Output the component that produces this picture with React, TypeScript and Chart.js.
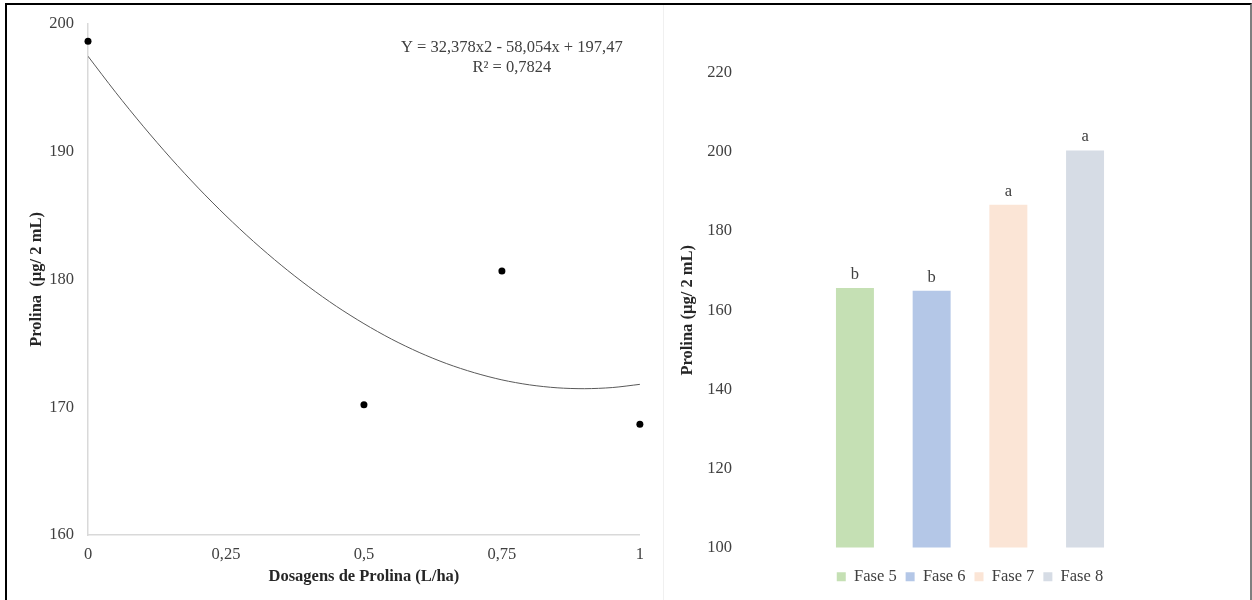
import React, { useEffect, useRef } from "react";
import { Chart, registerables } from "chart.js";

Chart.register(...registerables);

// ---- Left chart data ----
const doseValues = [0, 0.5, 0.75, 1];
const prolineValues = [198.65, 170.2, 180.67, 168.66];
const trendDoses = [0, 0.05, 0.1, 0.15, 0.2, 0.25, 0.3, 0.35, 0.4, 0.45, 0.5, 0.55, 0.6, 0.65, 0.7, 0.75, 0.8, 0.85, 0.9, 0.95, 1];
const trendValues = [197.47, 194.65, 191.99, 189.49, 187.15, 184.98, 182.97, 181.12, 179.43, 177.9, 176.54, 175.33, 174.29, 173.41, 172.7, 172.14, 171.75, 171.52, 171.45, 171.54, 171.79];
const doseTicks = [0, 0.25, 0.5, 0.75, 1];
const doseTickLabels = ["0", "0,25", "0,5", "0,75", "1"];
const leftYTicks = [160, 170, 180, 190, 200];
const equationLines = ["Y = 32,378x2 - 58,054x + 197,47", "R\u00B2 = 0,7824"];

// ---- Right chart data ----
const phaseNames = ["Fase 5", "Fase 6", "Fase 7", "Fase 8"];
const phaseValues = [165.6, 164.9, 186.7, 200.4];
const phaseLetters = ["b", "b", "a", "a"];
const phaseColors = ["#c5e0b4", "#b4c7e7", "#fbe5d6", "#d6dce5"];
const rightYTicks = [100, 120, 140, 160, 180, 200, 220];

const FONT = "'Liberation Serif', 'Times New Roman', serif";
const FS = 16.5;
const TICK_COLOR = "#404040";
const TITLE_COLOR = "#262626";

const equationPlugin = {
  id: "equation",
  afterDatasetsDraw(chart: any) {
    const { ctx, chartArea } = chart;
    ctx.save();
    ctx.font = `${FS}px ${FONT}`;
    ctx.fillStyle = TICK_COLOR;
    ctx.textAlign = "center";
    ctx.textBaseline = "middle";
    const cx = chartArea.left + 0.768 * (chartArea.right - chartArea.left);
    ctx.fillText(equationLines[0], cx, chartArea.top + 23.5);
    ctx.fillText(equationLines[1], cx, chartArea.top + 43.5);
    ctx.restore();
  },
};

const letterPlugin = {
  id: "letters",
  afterDatasetsDraw(chart: any) {
    const { ctx } = chart;
    ctx.save();
    ctx.font = `${FS}px ${FONT}`;
    ctx.fillStyle = TICK_COLOR;
    ctx.textAlign = "center";
    ctx.textBaseline = "middle";
    phaseLetters.forEach((letter, i) => {
      const el = chart.getDatasetMeta(i).data[0];
      if (el) ctx.fillText(letter, el.x, el.y - 13.5);
    });
    ctx.restore();
  },
};

function LeftChart() {
  const ref = useRef<HTMLCanvasElement | null>(null);
  useEffect(() => {
    if (!ref.current) return;
    const chart = new Chart(ref.current, {
      type: "scatter",
      data: {
        datasets: [
          {
            type: "scatter",
            data: doseValues.map((x, i) => ({ x, y: prolineValues[i] })),
            backgroundColor: "#000000",
            borderColor: "#000000",
            pointRadius: 3.5,
            borderWidth: 0,
            clip: false,
            order: 1,
          } as any,
          {
            type: "line",
            data: trendDoses.map((x, i) => ({ x, y: trendValues[i] })),
            borderColor: "#595959",
            borderWidth: 1,
            pointRadius: 0,
            tension: 0.3,
            fill: false,
            showLine: true,
            order: 2,
          } as any,
        ],
      },
      options: {
        animation: false,
        responsive: true,
        maintainAspectRatio: false,
        layout: { padding: { top: 22, right: 10, left: 0, bottom: 0 } },
        plugins: { legend: { display: false }, tooltip: { enabled: false } },
        scales: {
          x: {
            type: "linear",
            min: 0,
            max: 1,
            afterBuildTicks: (s: any) => {
              s.ticks = doseTicks.map((v) => ({ value: v }));
            },
            afterFit: (s: any) => {
              s.height = 65;
            },
            grid: { display: false, drawTicks: false },
            border: { display: true, color: "#d9d9d9", width: 1.5 },
            ticks: {
              padding: 10,
              color: TICK_COLOR,
              font: { family: FONT, size: FS },
              maxRotation: 0,
              callback: (_v: any, i: number) => doseTickLabels[i],
            },
            title: {
              display: true,
              text: "Dosagens de Prolina (L/ha)",
              color: TITLE_COLOR,
              font: { family: FONT, size: FS, weight: "bold" },
              padding: { top: 0, bottom: 13 },
            },
          },
          y: {
            type: "linear",
            min: 160,
            max: 200,
            afterBuildTicks: (s: any) => {
              s.ticks = leftYTicks.map((v) => ({ value: v }));
            },
            afterFit: (s: any) => {
              s.width = 81;
            },
            grid: { display: false, drawTicks: false },
            border: { display: true, color: "#d9d9d9", width: 1.5 },
            ticks: {
              padding: 14,
              color: TICK_COLOR,
              font: { family: FONT, size: FS },
            },
            title: {
              display: true,
              text: "Prolina  (\u00B5g/ 2 mL)",
              color: TITLE_COLOR,
              font: { family: FONT, size: FS, weight: "bold" },
              padding: { top: 19.5, bottom: 0 },
            },
          },
        },
      } as any,
      plugins: [equationPlugin],
    });
    return () => chart.destroy();
  }, []);
  return <canvas ref={ref} />;
}

function RightChart() {
  const ref = useRef<HTMLCanvasElement | null>(null);
  useEffect(() => {
    if (!ref.current) return;
    const chart = new Chart(ref.current, {
      type: "bar",
      data: {
        labels: [""],
        datasets: phaseNames.map((name, i) => ({
          label: name,
          data: [phaseValues[i]],
          backgroundColor: phaseColors[i],
          borderWidth: 0,
          categoryPercentage: 0.667,
          barPercentage: 0.495,
        })),
      },
      options: {
        animation: false,
        responsive: true,
        maintainAspectRatio: false,
        layout: { padding: { top: 68, right: 50, left: 0, bottom: 0 } },
        plugins: {
          legend: {
            position: "bottom",
            fullSize: false,
            labels: {
              boxWidth: 9,
              boxHeight: 9,
              padding: 9,
              color: TICK_COLOR,
              font: { family: FONT, size: FS },
            },
          },
          tooltip: { enabled: false },
        },
        scales: {
          x: {
            grid: { display: false, drawTicks: false },
            border: { display: false },
            ticks: { display: false },
            afterFit: (s: any) => {
              s.height = 12;
            },
          },
          y: {
            min: 100,
            max: 220,
            afterBuildTicks: (s: any) => {
              s.ticks = rightYTicks.map((v) => ({ value: v }));
            },
            afterFit: (s: any) => {
              s.width = 77;
            },
            grid: { display: false, drawTicks: false },
            border: { display: false },
            ticks: {
              padding: 8,
              color: TICK_COLOR,
              font: { family: FONT, size: FS },
            },
            title: {
              display: true,
              text: "Prolina (\u00B5g/ 2 mL)",
              color: TITLE_COLOR,
              font: { family: FONT, size: FS, weight: "bold" },
              padding: { top: 15, bottom: 0 },
            },
          },
        },
      } as any,
      plugins: [letterPlugin],
    });
    return () => chart.destroy();
  }, []);
  return <canvas ref={ref} />;
}

export default function App() {
  return (
    <div
      style={{
        position: "absolute",
        left: 0,
        top: 0,
        width: 1252,
        height: 600,
        overflow: "hidden",
        background: "#ffffff",
      }}
    >
      <div
        style={{
          position: "absolute",
          left: 5,
          top: 3,
          width: 1247,
          height: 620,
          boxSizing: "border-box",
          borderTop: "2px solid #000000",
          borderLeft: "2px solid #000000",
          borderRight: "2px solid #7f7f7f",
        }}
      />
      <div
        style={{
          position: "absolute",
          left: 663,
          top: 5,
          width: 1,
          height: 595,
          background: "#f0f0f0",
        }}
      />
      <div style={{ position: "absolute", left: 7, top: 0, width: 647, height: 600 }}>
        <LeftChart />
      </div>
      <div style={{ position: "absolute", left: 663, top: 5, width: 587, height: 590 }}>
        <RightChart />
      </div>
    </div>
  );
}
